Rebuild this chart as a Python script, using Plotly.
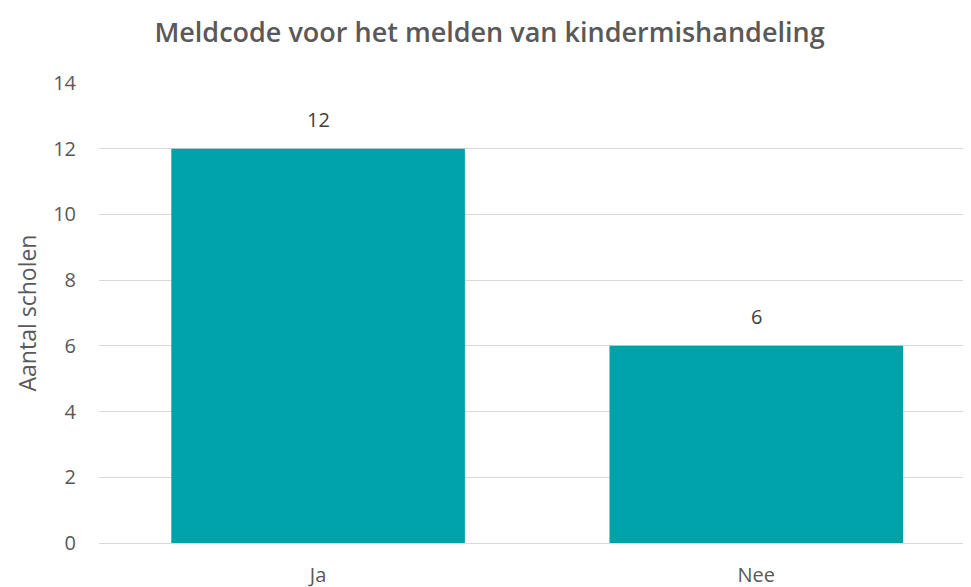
import plotly.graph_objects as go

# Data
categories = ["Ja", "Nee"]
values = [12, 6]
y_ticks = [0, 2, 4, 6, 8, 10, 12, 14]

bar_color = "#00A2AA"
text_color = "#595959"
grid_color = "#D9D9D9"

fig = go.Figure()

fig.add_trace(
    go.Bar(
        x=categories,
        y=values,
        marker=dict(color=bar_color, line=dict(width=0)),
        showlegend=False,
    )
)

# Data labels above the bars
for cat, val in zip(categories, values):
    fig.add_annotation(
        x=cat,
        y=val,
        text=str(val),
        showarrow=False,
        yshift=29,
        font=dict(size=20, color="#404040"),
    )

# page body has an 8px margin, so the figure is sized a bit smaller
fig.update_layout(
    width=963,
    height=579,
    margin=dict(l=91, r=0, t=75, b=44),
    paper_bgcolor="white",
    plot_bgcolor="white",
    bargap=0.33,
    font=dict(family="Open Sans, Noto Sans, sans-serif", color=text_color),
    title=dict(
        text="Meldcode voor het melden van kindermishandeling",
        x=0.5,
        xanchor="center",
        y=0.958,
        yanchor="middle",
        font=dict(size=27, color=text_color, weight=600),
    ),
)

fig.update_xaxes(
    range=[-0.5, 1.49],
    showgrid=False,
    showline=False,
    tickfont=dict(size=20, color=text_color),
    ticklabelstandoff=18,
)

fig.update_yaxes(
    range=[0, 14],
    tickvals=y_ticks,
    showgrid=True,
    gridcolor=grid_color,
    gridwidth=1,
    zeroline=True,
    zerolinecolor=grid_color,
    zerolinewidth=1,
    showline=False,
    tickfont=dict(size=20, color=text_color),
    ticklabelstandoff=22,
    title=dict(text="Aantal scholen", font=dict(size=23, color=text_color), standoff=10),
)

fig.write_html("out.html")
